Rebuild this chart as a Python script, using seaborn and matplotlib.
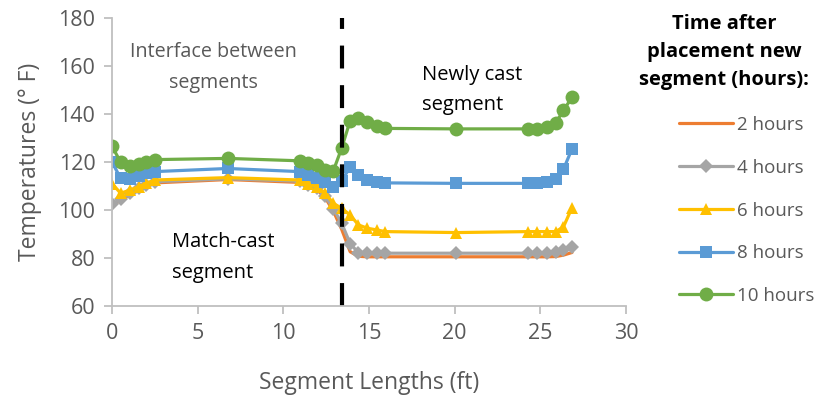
import matplotlib
matplotlib.use("Agg")
import matplotlib.pyplot as plt
import seaborn as sns

# -----------------------------
# Data
# -----------------------------
lengths = [0, 0.5, 1.05, 1.55, 2.0, 2.5, 6.75, 10.95, 11.45, 11.95, 12.43,
           12.92, 13.4, 13.9, 14.38, 14.9, 15.45, 15.94, 20.1, 24.3, 24.8,
           25.4, 25.9, 26.35, 26.85]

temp_2h = [102, 104, 106.5, 108.5, 110, 111.3, 112.7, 111.5, 110, 108.5, 105.3,
           99.5, 92, 82.6, 80.7, 80.5, 80.5, 80.5, 80.5, 80.5, 80.5,
           80.5, 80.6, 81.2, 82.3]
temp_4h = [102.5, 104.5, 107, 109, 110.5, 111.8, 113, 112, 110.5, 109, 106,
           100.5, 94.5, 86, 82.2, 82, 82.2, 82, 82, 82, 82,
           82, 82.5, 83.3, 84.7]
temp_6h = [111, 107, 108.3, 109.7, 111.1, 112.5, 113.5, 112.5, 111, 109.7, 107,
           102.8, 100.7, 97.9, 93.8, 92.4, 91.7, 91, 90.6, 91, 91,
           91, 91, 93, 101]
temp_8h = [120, 113.2, 112.8, 114.2, 115.3, 116, 117.3, 116, 114.6, 113.2, 111.8,
           109.7, 112, 118, 114.6, 112.5, 111.8, 111.3, 111.1, 111.1, 111.1,
           111.5, 112.8, 117, 125.5]
temp_10h = [126.5, 120, 118.5, 119.3, 120, 121, 121.5, 120.5, 119.7, 118.7, 116.7,
            116.4, 125.7, 137.2, 138.5, 136.5, 135.2, 134, 133.8, 133.8, 133.8,
            134.5, 136.3, 141.5, 147]

series_labels = ["2 hours", "4 hours", "6 hours", "8 hours", "10 hours"]
interface_x = 13.4

# -----------------------------
# Style
# -----------------------------
sns.set_style("white")
plt.rcParams["font.family"] = ["Open Sans", "DejaVu Sans"]

grey_text = "#595959"
spine_grey = "#bfbfbf"

series = [temp_2h, temp_4h, temp_6h, temp_8h, temp_10h]
colors = ["#ED7D31", "#A5A5A5", "#FFC000", "#5B9BD5", "#70AD47"]
markers = [None, "D", "^", "s", "o"]
msizes = [0, 7, 9, 9, 10]

fig = plt.figure(figsize=(8.25, 4.03), dpi=100)
ax = fig.add_axes([0.1358, 0.2407, 0.6230, 0.7146])

for vals, lab, col, mk, ms in zip(series, series_labels, colors, markers, msizes):
    sns.lineplot(
        x=lengths,
        y=vals,
        ax=ax,
        color=col,
        marker=mk,
        markersize=ms,
        markeredgewidth=0,
        linewidth=2.3,
        label=lab,
        sort=False
    )

ax.axvline(interface_x, color="black", linewidth=3, linestyle=(0, (5.5, 4)))

# -----------------------------
# Axes
# -----------------------------
ax.set_xlim(0, 30)
ax.set_ylim(60, 180)
ax.set_xticks(range(0, 31, 5))
ax.set_yticks(range(60, 181, 20))

for side in ["top", "right"]:
    ax.spines[side].set_visible(False)
for side in ["left", "bottom"]:
    ax.spines[side].set_color(spine_grey)
    ax.spines[side].set_linewidth(1.3)

ax.tick_params(axis="both", which="both", direction="out", length=6,
               width=1.3, color=spine_grey, labelsize=15.5,
               labelcolor=grey_text, pad=6, left=True, bottom=True)

ax.set_xlabel("Segment Lengths (ft)", fontsize=16.5, color=grey_text, labelpad=20)
ax.set_ylabel("Temperatures (° F)", fontsize=16.5, color=grey_text, labelpad=12)

# -----------------------------
# Annotations
# -----------------------------
ax.text(5.9, 159.4, "Interface between\nsegments", ha="center", va="center",
        fontsize=14.2, color=grey_text, linespacing=1.75)
ax.text(18.1, 150, "Newly cast\nsegment", ha="left", va="center",
        fontsize=14.5, color="black", linespacing=1.7)
ax.text(3.5, 80.2, "Match-cast\nsegment", ha="left", va="center",
        fontsize=14.5, color="black", linespacing=1.7)

# -----------------------------
# Legend
# -----------------------------
ax.get_legend().remove()
handles, labels = ax.get_legend_handles_labels()

fig.text(724 / 825, 1 - 52 / 403, "Time after\nplacement new\nsegment (hours):",
         ha="center", va="center", fontsize=14.5, fontweight="bold",
         color="black", linespacing=1.55)

leg = fig.legend(
    handles, labels,
    loc="upper left",
    bbox_to_anchor=(679 / 825, 1 - 116 / 403),
    frameon=False,
    fontsize=13.5,
    handlelength=2.9,
    handletextpad=0.2,
    labelspacing=1.32,
    borderpad=0,
    borderaxespad=0,
)
for t in leg.get_texts():
    t.set_color(grey_text)

plt.savefig("out.png", dpi=100)
plt.close()
